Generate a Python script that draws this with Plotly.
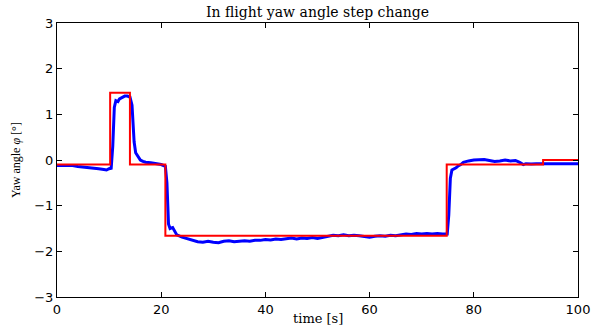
import plotly.graph_objects as go

# Measured yaw angle (blue)
t_meas = [0, 1, 2, 3, 4, 5, 6, 7, 8, 9, 9.5, 10, 10.4, 10.7, 11.0, 11.3, 11.7, 12.0, 12.5,
          13.0, 13.5, 14.0, 14.4, 14.8, 15.1, 15.5, 16.0, 16.5, 17.0, 18.0, 19.0, 20.0,
          20.8, 21.1, 21.4, 21.7, 22.2, 22.6, 23.0, 24, 25, 26, 27, 28, 29, 30, 31, 32,
          33, 34, 35, 36, 37, 38, 39, 40, 41, 42, 43, 44, 45, 46, 47, 48, 49, 50, 51,
          52, 53, 54, 55, 56, 57, 58, 59, 60, 61, 62, 63, 64, 65, 66, 67, 68, 69, 70,
          71, 72, 73, 74, 74.9, 75.2, 75.5, 75.8, 76.2, 76.6, 77, 77.5, 78, 78.5, 79,
          80, 81, 82, 83, 84, 85, 86, 87, 88, 88.8, 89.5, 90, 91, 92, 93, 95, 97, 100]
yaw_meas = [-0.12, -0.12, -0.13, -0.12, -0.14, -0.15, -0.17, -0.17, -0.19, -0.21, -0.22,
            -0.19, -0.18, 0.3, 1.15, 1.30, 1.28, 1.34, 1.37, 1.40, 1.40, 1.38, 1.2, 0.4,
            0.16, 0.1, 0.0, -0.03, -0.05, -0.06, -0.08, -0.1, -0.14, -0.5, -1.4, -1.5,
            -1.48, -1.57, -1.64, -1.69, -1.72, -1.76, -1.79, -1.80, -1.78, -1.80, -1.81,
            -1.78, -1.77, -1.79, -1.78, -1.77, -1.78, -1.76, -1.76, -1.74, -1.75, -1.73,
            -1.74, -1.72, -1.71, -1.73, -1.71, -1.72, -1.70, -1.72, -1.70, -1.67, -1.65,
            -1.66, -1.64, -1.66, -1.65, -1.66, -1.67, -1.69, -1.67, -1.66, -1.67, -1.65,
            -1.66, -1.64, -1.62, -1.63, -1.61, -1.62, -1.61, -1.62, -1.61, -1.62, -1.62,
            -1.2, -0.4, -0.22, -0.2, -0.17, -0.13, -0.1, -0.05, -0.03, -0.02, 0.0, 0.0,
            0.01, -0.01, -0.03, -0.02, 0.0, -0.02, -0.01, -0.05, -0.1, -0.08, -0.09,
            -0.08, -0.08, -0.09, -0.08, -0.08]

# Reference yaw angle (red), step changes
t_ref = [0, 10.2, 14.0, 20.8, 74.8, 93.3, 100]
yaw_ref = [-0.1, 1.47, -0.1, -1.66, -0.1, 0.0, 0.0]

x_ticks = [0, 20, 40, 60, 80, 100]
y_ticks = [-3, -2, -1, 0, 1, 2, 3]
y_tick_labels = ["\u22123", "\u22122", "\u22121", "0", "1", "2", "3"]

fig = go.Figure()
fig.add_trace(go.Scatter(x=t_meas, y=yaw_meas, mode="lines",
                         line=dict(color="#0000ff", width=3), showlegend=False))
fig.add_trace(go.Scatter(x=t_ref, y=yaw_ref, mode="lines", line_shape="hv",
                         line=dict(color="#ff0000", width=2), showlegend=False))

axis_common = dict(showgrid=False, zeroline=False, showline=True, linecolor="black",
                   linewidth=1, mirror="ticks", ticks="inside", ticklen=5,
                   tickcolor="black", automargin=False,
                   tickfont=dict(family="DejaVu Sans", size=13, color="black"))

serif = "DejaVu Serif"
fig.update_layout(
    width=592, height=328,
    margin=dict(l=57, r=14, t=23, b=31),
    paper_bgcolor="white", plot_bgcolor="white",
    xaxis=dict(range=[0, 100], tickvals=x_ticks, **axis_common),
    yaxis=dict(range=[-3, 3], tickvals=y_ticks, ticktext=y_tick_labels, **axis_common),
    annotations=[
        dict(text="In flight yaw angle step change", xref="paper", yref="paper",
             x=0.5, y=1.0, yshift=11, xanchor="center", yanchor="middle",
             showarrow=False, font=dict(family=serif, size=14, color="black")),
        dict(text="time [s]", xref="paper", yref="paper",
             x=0.5, y=0.0, yshift=-21, xanchor="center", yanchor="middle",
             showarrow=False, font=dict(family=serif, size=13, color="black")),
        dict(text="Yaw angle <i>\u03c6</i> [\u00b0]", xref="paper", yref="paper",
             x=0.0, y=0.5, xshift=-41, xanchor="center", yanchor="middle",
             textangle=-90, showarrow=False,
             font=dict(family="Liberation Serif", size=12, color="black")),
    ],
)

fig.write_html("out.html", config={"displayModeBar": False},
               post_script="document.body.style.margin='0';document.body.style.overflow='hidden';")
